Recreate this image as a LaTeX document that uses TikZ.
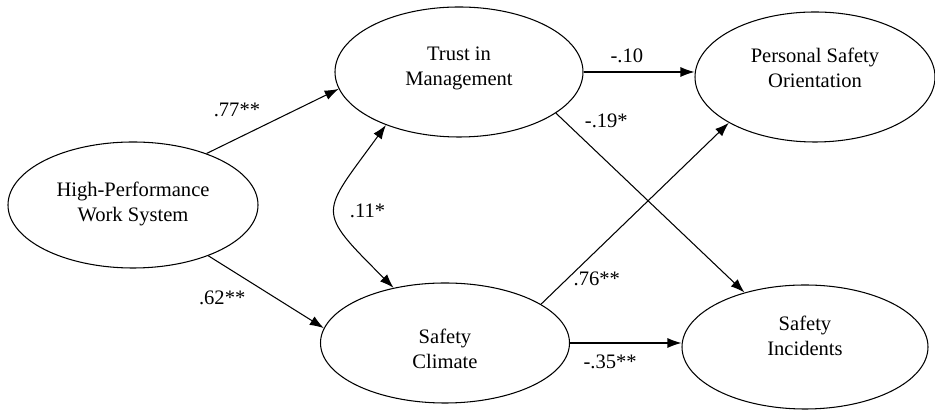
\documentclass[tikz,border=0pt]{standalone}
\usepackage{fontspec}
\setmainfont{Liberation Serif}
\usetikzlibrary{shapes,arrows.meta}
\usetikzlibrary{positioning}
\newcommand\vartext[3][0pt]{\raisebox{#1}[0pt][0pt]{\begin{tabular}{@{}c@{}}#2\\#3\end{tabular}}}
\newcommand\varnode[5][]{%
  \node[varnode,#1,minimum width=#2cm,minimum height=#3cm] (#4) {#5};
}

\begin{document}
\begin{tikzpicture}[>={Latex[length=2.8mm,width=2mm]}, auto,
font=\fontsize{11.7}{14.2}\selectfont,
line width=0.6pt,
varnode/.style={
  ellipse,
  draw,
  on grid,
  inner sep=0pt,
  align=center}
]
\useasboundingbox (-2.66,4.10) rectangle (16.04,-4.14);
\varnode[]{5.0}{2.52}{hpws}{\vartext[-2.6pt]{High-Performance}{Work System}}
\varnode[above right=2.66cm and 6.52cm of hpws]{4.96}{2.6}{tm}{\vartext[-0.6pt]{Trust in}{Management}}
\varnode[below right=2.76cm and 6.24cm of hpws]{4.98}{2.4}{sc}{\vartext[-7.5pt]{Safety}{Climate}}
\varnode[below right=0.1cm and 7.12cm of tm]{4.8}{2.6}{pso}{\vartext[1.1pt]{Personal Safety}{Orientation}}
\varnode[below right=0.08cm and 7.2cm of sc]{4.92}{2.48}{si}{\vartext[2pt]{Safety}{Incidents}}
\draw [->] (hpws.35) -- node [pos=0.23, above=0.3cm] (b1) {.77**} (tm.188);
\draw [->] (hpws.-34) -- node [pos=0.12, below=0.4cm] (b2) {.62**} (sc.173);
\draw [<->] (tm.216) to [out=234, in=135, looseness=1.75] node [pos=0.5, right=0.16cm] (r) {.11*} (sc.133);
\draw [->] (tm.east) -- node [pos=0.39, above=0.05cm] (b3) {-.10} (pso.west |- tm.east);
\draw [->] (tm.-23) -- node [pos=0.12, above right] (b4) {-.19*} (si.138);
\draw [->] (sc.22) -- node [pos=0.14, right] (b5) {.76**} (pso.208);
\draw [->] (sc.east) -- node [pos=0.36, below=0.12cm] (b6) {-.35**} (si.west |- sc.east);
\end{tikzpicture}
\end{document}
